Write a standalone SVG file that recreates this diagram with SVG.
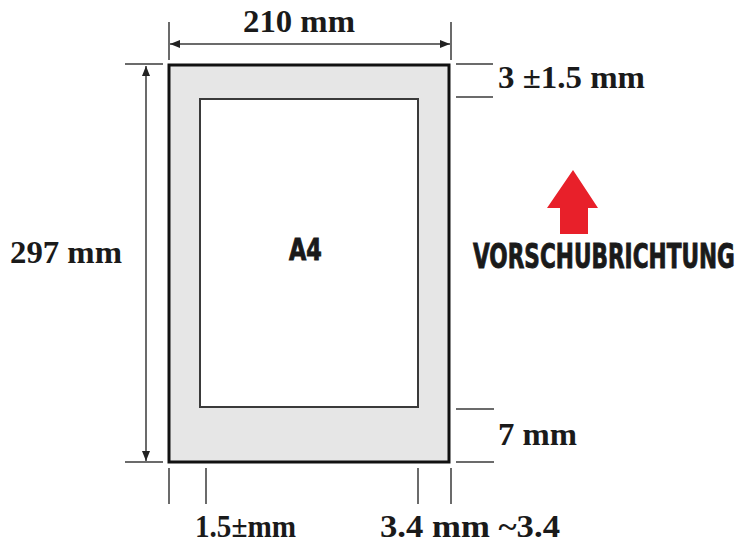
<svg xmlns="http://www.w3.org/2000/svg" width="748" height="548" viewBox="0 0 748 548">
<defs>
<style>
.dim{stroke:#3a3a3a;stroke-width:1.5;fill:none}
.lbl{font-weight:bold;font-size:31px;fill:#1a1a1a}
.cond{font-weight:bold;fill:#1a1a1a;stroke:#1a1a1a;stroke-width:0.9}
</style>
<marker id="ah" viewBox="0 0 10 8" refX="10" refY="4" markerWidth="10" markerHeight="8" markerUnits="userSpaceOnUse" orient="auto-start-reverse">
<path d="M0,0 L10,4 L0,8 Z" fill="#222"/>
</marker>
</defs>
<rect width="748" height="548" fill="#fff"/>
<g id="sheet">
<rect x="169" y="65" width="280" height="397" fill="#e6e6e6" stroke="#111" stroke-width="3"/>
<rect x="200" y="99" width="218" height="308" fill="#fff" stroke="#3a3a3a" stroke-width="2"/>
<text class="cond" font-family="'DejaVu Sans Condensed', 'DejaVu Sans', sans-serif" transform="translate(289,260) scale(0.8,1)" x="0" y="0" font-size="30" textLength="41" lengthAdjust="spacingAndGlyphs">A4</text>
</g>
<g id="connectors">
<line class="dim" x1="169" y1="22" x2="169" y2="60"/>
<line class="dim" x1="451" y1="22" x2="451" y2="60"/>
<line class="dim" x1="170" y1="44" x2="450" y2="44" marker-start="url(#ah)" marker-end="url(#ah)"/>
<line class="dim" x1="125" y1="64" x2="163" y2="64"/>
<line class="dim" x1="125" y1="462" x2="163" y2="462"/>
<line class="dim" x1="146" y1="66" x2="146" y2="461" marker-start="url(#ah)" marker-end="url(#ah)"/>
<line class="dim" x1="456" y1="64" x2="493" y2="64"/>
<line class="dim" x1="456" y1="97" x2="493" y2="97"/>
<line class="dim" x1="456" y1="409" x2="494" y2="409"/>
<line class="dim" x1="456" y1="462" x2="494" y2="462"/>
<line class="dim" x1="169" y1="468" x2="169" y2="504"/>
<line class="dim" x1="206" y1="468" x2="206" y2="504"/>
<line class="dim" x1="418" y1="468" x2="418" y2="504"/>
<line class="dim" x1="451" y1="468" x2="451" y2="504"/>
</g>
<g id="labels" font-family="'Liberation Serif', 'Times New Roman', serif">
<text class="lbl" x="243" y="32" textLength="112" lengthAdjust="spacingAndGlyphs">210 mm</text>
<text class="lbl" x="10" y="263" textLength="112" lengthAdjust="spacingAndGlyphs">297 mm</text>
<text class="lbl" x="498" y="88" textLength="147" lengthAdjust="spacingAndGlyphs">3 ±1.5  mm</text>
<text class="lbl" x="498" y="445" textLength="79" lengthAdjust="spacingAndGlyphs">7 mm</text>
<text class="lbl" x="195" y="537" textLength="101" lengthAdjust="spacingAndGlyphs">1.5±mm</text>
<text class="lbl" x="380" y="537" textLength="180" lengthAdjust="spacingAndGlyphs">3.4 mm ~3.4</text>
</g>
<g id="feed-direction">
<polygon points="573,170 598,208 588,208 588,234 560,234 560,208 547,208" fill="#e8202a"/>
<text class="cond" font-family="'DejaVu Sans Condensed', 'DejaVu Sans', sans-serif" transform="translate(473,268) scale(0.7,1)" x="0" y="0" font-size="34" textLength="374" lengthAdjust="spacingAndGlyphs">VORSCHUBRICHTUNG</text>
</g>
</svg>
